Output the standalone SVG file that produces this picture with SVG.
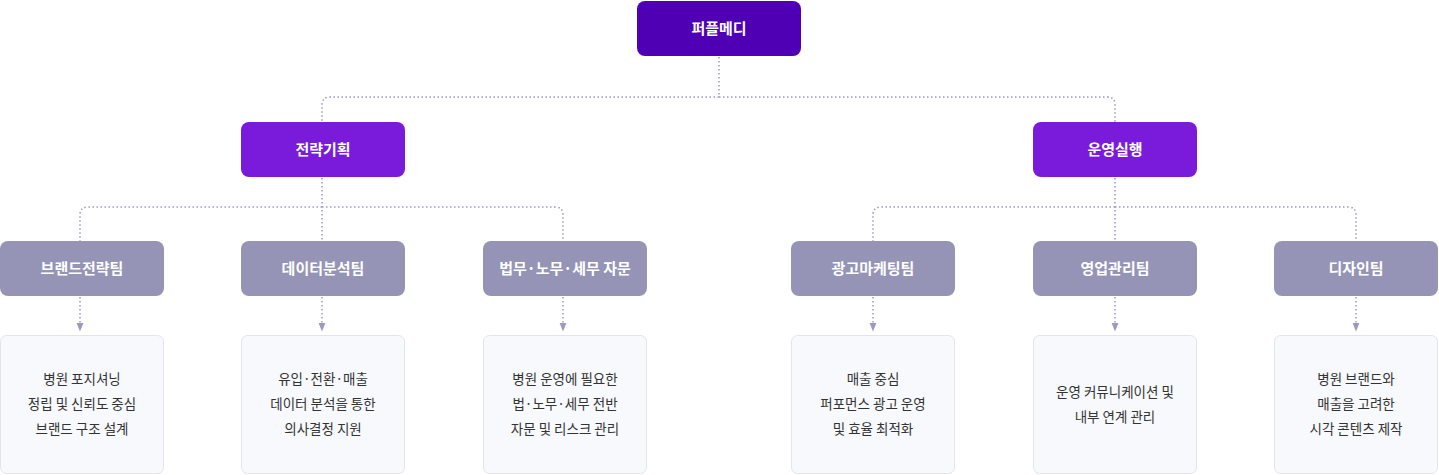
<svg xmlns="http://www.w3.org/2000/svg" width="1439" height="475" viewBox="0 0 1439 475">
<defs>
<style>
text{font-family:"Noto Sans CJK KR","Noto Sans",sans-serif;text-anchor:middle}
.t{fill:#fff;font-size:15px;font-weight:700}
.d{fill:#333;font-size:13.5px}
.c{fill:none;stroke:#9c98c4;stroke-width:1.5;stroke-dasharray:1.5 2.5}
.l2{fill:#9594b6}
.ds{fill:#f8f9fc;stroke:#e4e5ec}
</style>
<marker id="ar" viewBox="0 0 10 10" refX="5" refY="5" markerWidth="6" markerHeight="6" orient="auto"><path d="M0,1 L10,5 L0,9 z" fill="#9c98c4"/></marker>
</defs>
<g id="connectors">
<path class="c" d="M719,57 V97 H330 Q322,97 322,105 V122 M719,97 H1107 Q1115,97 1115,105 V122"/>
<path class="c" d="M322,178 V241 M322,207 H88 Q80,207 80,215 V241 M322,207 H555 Q563,207 563,215 V241"/>
<path class="c" d="M1115,178 V241 M1115,207 H881 Q873,207 873,215 V241 M1115,207 H1348 Q1356,207 1356,215 V241"/>
<g class="c" marker-end="url(#ar)">
<path d="M80,297 V327"/><path d="M322,297 V327"/><path d="M563,297 V327"/>
<path d="M873,297 V327"/><path d="M1115,297 V327"/><path d="M1356,297 V327"/>
</g>
</g>
<g id="root"><rect x="637" y="1" width="164" height="55" rx="8" fill="#4f00b5"/><text class="t" x="719" y="34">퍼플메디</text></g>
<g id="strategy"><rect x="241" y="122" width="164" height="55" rx="8" fill="#7a1bdc"/><text class="t" x="323" y="155">전략기획</text></g>
<g id="ops"><rect x="1033" y="122" width="164" height="55" rx="8" fill="#7a1bdc"/><text class="t" x="1115" y="155">운영실행</text></g>
<g id="brand"><rect class="l2" x="0" y="241" width="164" height="55" rx="8"/><text class="t" x="82" y="274">브랜드전략팀</text></g>
<g id="data"><rect class="l2" x="241" y="241" width="164" height="55" rx="8"/><text class="t" x="323" y="274">데이터분석팀</text></g>
<g id="legal"><rect class="l2" x="483" y="241" width="164" height="55" rx="8"/><text class="t" x="565" y="274">법무·노무·세무 자문</text></g>
<g id="ad"><rect class="l2" x="791" y="241" width="164" height="55" rx="8"/><text class="t" x="873" y="274">광고마케팅팀</text></g>
<g id="sales"><rect class="l2" x="1033" y="241" width="164" height="55" rx="8"/><text class="t" x="1115" y="274">영업관리팀</text></g>
<g id="design"><rect class="l2" x="1274" y="241" width="164" height="55" rx="8"/><text class="t" x="1356" y="274">디자인팀</text></g>
<g id="brand-desc"><rect class="ds" x="0.5" y="335.5" width="163" height="138" rx="6"/><text class="d" x="82" y="384">병원 포지셔닝</text><text class="d" x="82" y="409">정립 및 신뢰도 중심</text><text class="d" x="82" y="434">브랜드 구조 설계</text></g>
<g id="data-desc"><rect class="ds" x="241.5" y="335.5" width="163" height="138" rx="6"/><text class="d" x="323" y="384">유입·전환·매출</text><text class="d" x="323" y="409">데이터 분석을 통한</text><text class="d" x="323" y="434">의사결정 지원</text></g>
<g id="legal-desc"><rect class="ds" x="483.5" y="335.5" width="163" height="138" rx="6"/><text class="d" x="565" y="384">병원 운영에 필요한</text><text class="d" x="565" y="409">법·노무·세무 전반</text><text class="d" x="565" y="434">자문 및 리스크 관리</text></g>
<g id="ad-desc"><rect class="ds" x="791.5" y="335.5" width="163" height="138" rx="6"/><text class="d" x="873" y="384">매출 중심</text><text class="d" x="873" y="409">퍼포먼스 광고 운영</text><text class="d" x="873" y="434">및 효율 최적화</text></g>
<g id="sales-desc"><rect class="ds" x="1033.5" y="335.5" width="163" height="138" rx="6"/><text class="d" x="1115" y="397">운영 커뮤니케이션 및</text><text class="d" x="1115" y="422">내부 연계 관리</text></g>
<g id="design-desc"><rect class="ds" x="1274.5" y="335.5" width="163" height="138" rx="6"/><text class="d" x="1356" y="384">병원 브랜드와</text><text class="d" x="1356" y="409">매출을 고려한</text><text class="d" x="1356" y="434">시각 콘텐츠 제작</text></g>
</svg>
